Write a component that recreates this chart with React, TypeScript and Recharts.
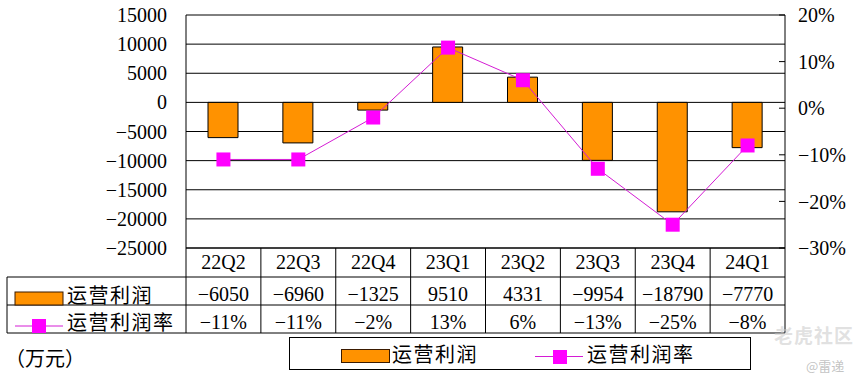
import { Bar, CartesianGrid, ComposedChart, Legend, Line, ReferenceLine, XAxis, YAxis } from "recharts"

const quarters = ["22Q2", "22Q3", "22Q4", "23Q1", "23Q2", "23Q3", "23Q4", "24Q1"]
const operatingProfit = [-6050, -6960, -1325, 9510, 4331, -9954, -18790, -7770]
const profitMargin = [-11, -11, -2, 13, 6, -13, -25, -8]
const profitTicks = [-25000, -20000, -15000, -10000, -5000, 0, 5000, 10000, 15000]
const marginTicks = [-30, -20, -10, 0, 10, 20]

const seriesNames = { profit: "运营利润", margin: "运营利润率" }

const data = quarters.map((quarter, i) => ({
  quarter,
  profit: operatingProfit[i],
  margin: profitMargin[i],
}))

const FONT = "Liberation Serif, Times New Roman, Noto Sans CJK SC, serif"
const ORANGE = "#FF9200"
const MAGENTA = "#FF00FF"
const LINE_COLOR = "#D41CD4"

// layout of plot + table below it
const PLOT_L = 186
const PLOT_R = 785
const PLOT_B = 248
const ROW1 = 277
const ROW2 = 305
const ROW3 = 333
const TABLE_L = 7

const minus = (s: string) => s.replace("-", "−")

function TableTick(props: any) {
  const { x, index } = props
  const colW = (PLOT_R - PLOT_L) / quarters.length
  const left = x - colW / 2
  const txt = { fontFamily: FONT, fontSize: 20, fill: "#000", textAnchor: "middle" as const }
  return (
    <g>
      {index === 0 && (
        <g>
          <line x1={TABLE_L} x2={PLOT_R} y1={ROW1} y2={ROW1} stroke="#000" />
          <line x1={TABLE_L} x2={PLOT_R} y1={ROW2} y2={ROW2} stroke="#000" />
          <line x1={TABLE_L} x2={PLOT_R} y1={ROW3} y2={ROW3} stroke="#000" />
          <line x1={TABLE_L} x2={TABLE_L} y1={ROW1} y2={ROW3} stroke="#000" />
          <line x1={PLOT_L} x2={PLOT_L} y1={PLOT_B} y2={ROW3} stroke="#000" />
          <rect x={15} y={292} width={48} height={13} fill={ORANGE} stroke="#3a1a00" />
          <text x={67} y={303} fontFamily={FONT} fontSize={20} letterSpacing={1.5} fill="#000">
            {seriesNames.profit}
          </text>
          <line x1={15} x2={63} y1={326} y2={326} stroke={LINE_COLOR} />
          <rect x={32} y={319} width={14} height={14} fill={MAGENTA} />
          <text x={67} y={330} fontFamily={FONT} fontSize={20} letterSpacing={1.5} fill="#000">
            {seriesNames.margin}
          </text>
        </g>
      )}
      <line x1={left + colW} x2={left + colW} y1={PLOT_B} y2={ROW3} stroke="#000" />
      <text x={x} y={269} {...txt}>{quarters[index]}</text>
      <text x={x} y={301} {...txt}>{minus(String(operatingProfit[index]))}</text>
      <text x={x} y={329} {...txt}>{minus(`${profitMargin[index]}%`)}</text>
    </g>
  )
}

function SquareDot(props: any) {
  const { cx, cy } = props
  if (cx == null || cy == null) return null
  return <rect x={cx - 7} y={cy - 7} width={14} height={14} fill={MAGENTA} />
}

function LegendBox() {
  const label = { position: "absolute" as const, top: 5, fontSize: 20, letterSpacing: 1.5, lineHeight: "24px" }
  return (
    <div
      style={{
        position: "relative",
        width: 460,
        height: 31,
        border: "1px solid #000",
        fontFamily: FONT,
        color: "#000",
        background: "#fff",
      }}
    >
      <div
        style={{
          position: "absolute",
          left: 51,
          top: 11,
          width: 47,
          height: 12,
          background: ORANGE,
          border: "1px solid #3a1a00",
        }}
      />
      <span style={{ ...label, left: 102 }}>{seriesNames.profit}</span>
      <div style={{ position: "absolute", left: 245, top: 18, width: 48, height: 1, background: LINE_COLOR }} />
      <div style={{ position: "absolute", left: 263, top: 12, width: 14, height: 14, background: MAGENTA }} />
      <span style={{ ...label, left: 297 }}>{seriesNames.margin}</span>
    </div>
  )
}

export default function App() {
  return (
    <div style={{ position: "absolute", left: 0, top: 0, width: 863, height: 384, background: "#fff" }}>
      <ComposedChart width={863} height={384} data={data} margin={{ top: 15, right: 0, bottom: 0, left: 0 }}>
        <CartesianGrid yAxisId="left" vertical={false} stroke="#000" />
        <XAxis
          dataKey="quarter"
          height={136}
          axisLine={{ stroke: "#000" }}
          tickLine={false}
          interval={0}
          tick={<TableTick />}
        />
        <YAxis
          yAxisId="left"
          width={186}
          domain={[-25000, 15000]}
          ticks={profitTicks}
          axisLine={{ stroke: "#000" }}
          tickLine={false}
          tickMargin={13}
          tick={{ fill: "#000", fontSize: 20, fontFamily: FONT }}
          tickFormatter={(v: number) => minus(String(v))}
        />
        <YAxis
          yAxisId="right"
          orientation="right"
          width={78}
          domain={[-30, 20]}
          ticks={marginTicks}
          axisLine={{ stroke: "#000" }}
          tickLine={{ stroke: "#000" }}
          tickSize={-6}
          tickMargin={19}
          tick={{ fill: "#000", fontSize: 20, fontFamily: FONT }}
          tickFormatter={(v: number) => minus(`${v}%`)}
        />
        <ReferenceLine yAxisId="left" y={15000} stroke="#808080" />
        <Bar
          yAxisId="left"
          dataKey="profit"
          name={seriesNames.profit}
          fill={ORANGE}
          stroke="#000"
          strokeWidth={1}
          barSize={30}
          isAnimationActive={false}
        />
        <Line
          yAxisId="right"
          dataKey="margin"
          name={seriesNames.margin}
          stroke={LINE_COLOR}
          strokeWidth={1}
          dot={<SquareDot />}
          activeDot={false}
          isAnimationActive={false}
        />
        <Legend
          layout="horizontal"
          verticalAlign="middle"
          align="center"
          content={() => <LegendBox />}
          wrapperStyle={{ left: 289, top: 337, width: 462, height: 33 }}
        />
      </ComposedChart>
      <div style={{ position: "absolute", left: 5, top: 343, fontFamily: FONT, fontSize: 20, color: "#000" }}>
        （万元）
      </div>
      <div
        style={{
          position: "absolute",
          left: 774,
          top: 321,
          fontFamily: "Noto Sans CJK SC, sans-serif",
          fontSize: 19,
          fontWeight: 700,
          color: "rgba(200,200,200,0.55)",
          letterSpacing: 1,
        }}
      >
        老虎社区
      </div>
      <div
        style={{
          position: "absolute",
          left: 806,
          top: 356,
          fontFamily: "Noto Sans CJK SC, sans-serif",
          fontSize: 13,
          color: "rgba(180,180,180,0.8)",
        }}
      >
        @雷递
      </div>
    </div>
  )
}
